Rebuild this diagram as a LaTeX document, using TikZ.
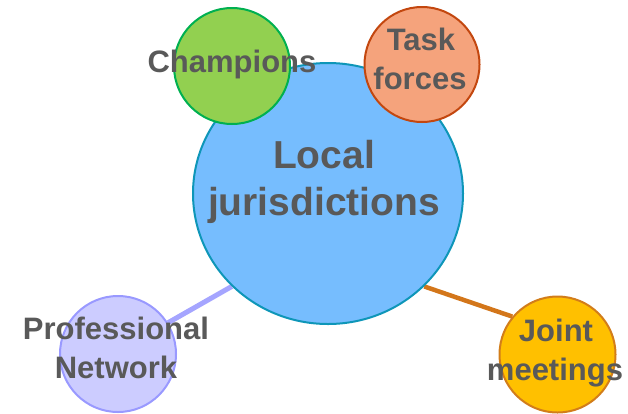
\documentclass[tikz,border=0pt]{standalone}
\usepackage{fontspec}
\setmainfont{Liberation Sans}
\usetikzlibrary{shapes.geometric,backgrounds}
\definecolor{txt}{HTML}{595959}
\definecolor{bigfill}{HTML}{76BDFE}
\definecolor{bigborder}{HTML}{0E96B8}
\definecolor{chfill}{HTML}{92D050}
\definecolor{chborder}{HTML}{00B050}
\definecolor{tfill}{HTML}{F5A37C}
\definecolor{tborder}{HTML}{C3470F}
\definecolor{pfill}{HTML}{CCCCFF}
\definecolor{pborder}{HTML}{9999FF}
\definecolor{jfill}{HTML}{FFC000}
\definecolor{jborder}{HTML}{D27D1A}
\definecolor{pline}{HTML}{A5A5FF}
\definecolor{oline}{HTML}{D3761A}
\tikzset{
  bubble/.style={circle, line width=2pt, minimum size=116pt, inner sep=0pt},
  lbl/.style={anchor=base, inner sep=0pt, text=txt, font=\fontsize{31}{37}\selectfont\bfseries},
  biglbl/.style={anchor=base, inner sep=0pt, text=txt, font=\fontsize{39}{47}\selectfont\bfseries},
}
\begin{document}
\begin{tikzpicture}[x=1pt,y=-1pt]
\useasboundingbox (0,0) rectangle (628,413);
\node[ellipse, draw=bigborder, fill=bigfill, line width=2pt, minimum width=270pt, minimum height=261pt, inner sep=0pt] (local) at (328,193.5) {};
\node[bubble, draw=chborder, fill=chfill] (champ) at (232,66) {};
\node[bubble, draw=tborder, fill=tfill, minimum size=115pt] (task) at (422,64.5) {};
\node[bubble, draw=pborder, fill=pfill] (prof) at (118,354) {};
\node[bubble, draw=jborder, fill=jfill] (joint) at (557.5,354.5) {};
\begin{scope}[on background layer]
\draw[pline, line width=5pt] (local.224) -- (prof.32);
\draw[oline, line width=4.5pt] (local.316) -- (joint.140);
\end{scope}
\node[biglbl] (t1) at (324,168) {Local};
\node[biglbl] (t2) at (324,215) {jurisdictions};
\node[lbl] (t3) at (232,72) {Champions};
\node[lbl] (t4) at (421,50) {Task};
\node[lbl] (t5) at (420,89) {forces};
\node[lbl] (t6) at (116,339) {Professional};
\node[lbl] (t7) at (116,378) {Network};
\node[lbl] (t8) at (556,341) {Joint};
\node[lbl] (t9) at (555,380) {meetings};
\end{tikzpicture}
\end{document}
